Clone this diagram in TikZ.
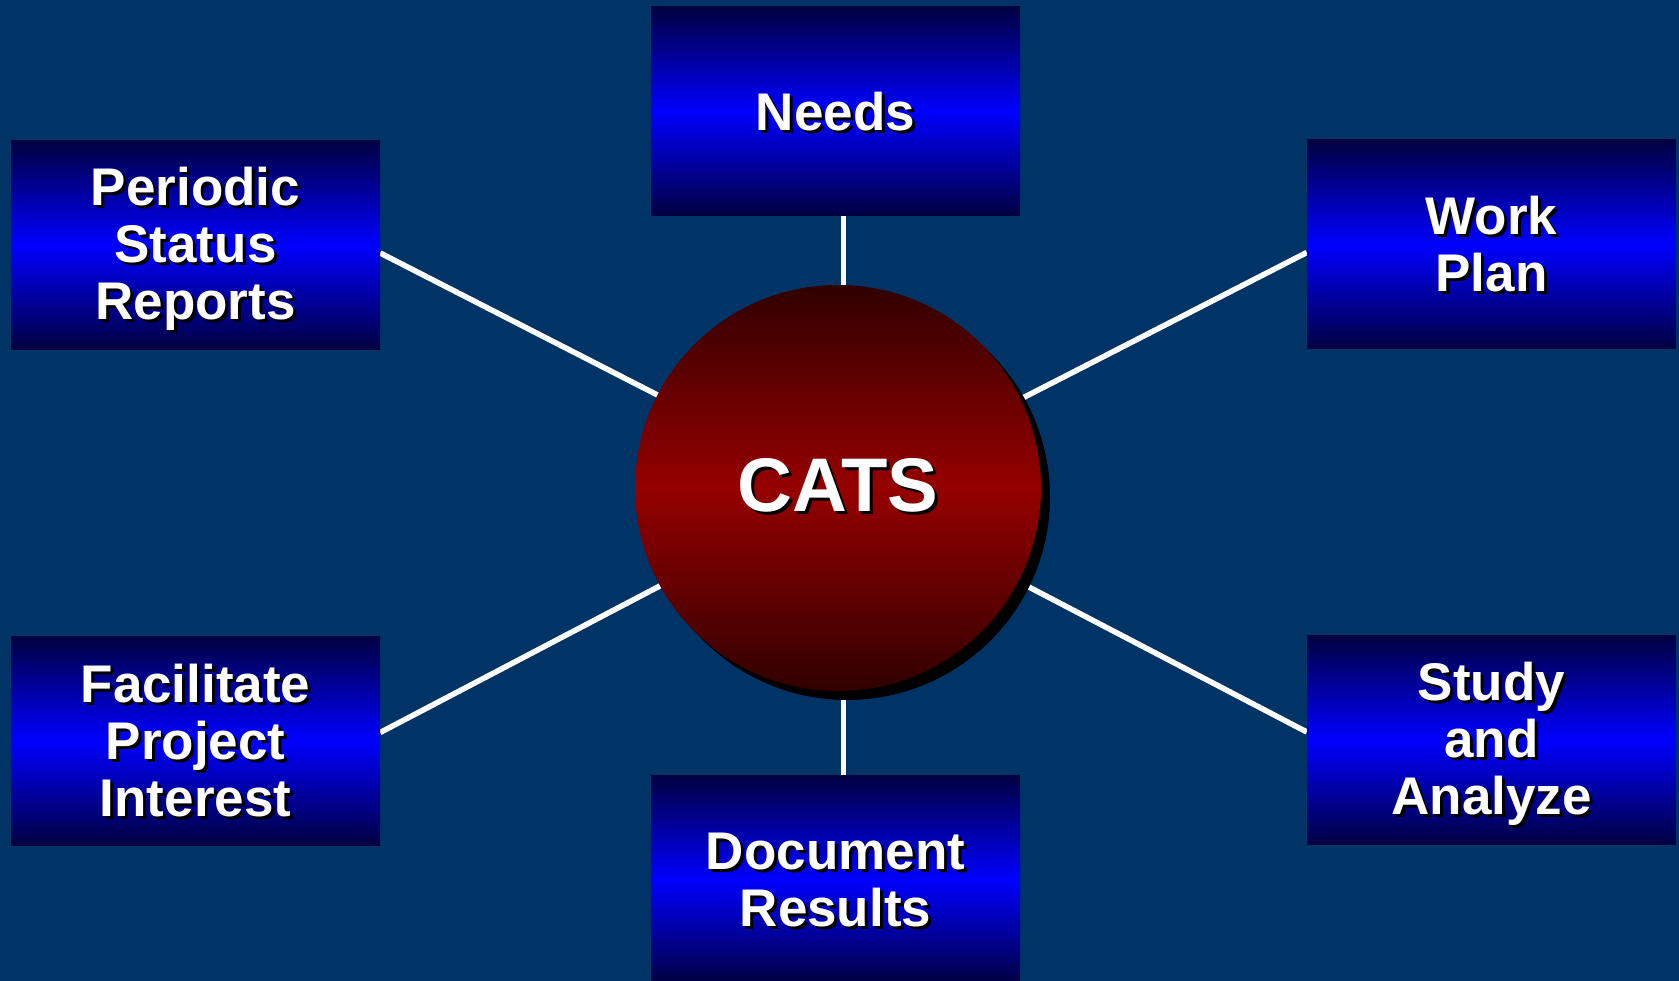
\documentclass[tikz,border=0pt]{standalone}
\usepackage{fontspec}
\setmainfont{Liberation Sans}
\pgfdeclarelayer{bg}
\pgfdeclarelayer{lines}
\pgfsetlayers{bg,lines,main}
\definecolor{bgblue}{RGB}{0,51,102}
\definecolor{boxdark}{RGB}{0,0,64}
\definecolor{boxblue}{RGB}{0,0,255}
\definecolor{catsdark}{RGB}{48,0,0}
\definecolor{catsmid}{RGB}{150,0,0}
\def\txtup{0pt}
\newcommand\noskiplim{\lineskiplimit -100pt\relax}
\newcommand\catsup{\def\txtup{7.2pt}}
\newcommand\shd[1]{\leavevmode\vrule height \dimexpr0.936em-\txtup\relax depth 0.22em width 0pt\rlap{\kern3pt\raisebox{-3pt}{\color{black}#1}}#1}
\tikzset{
  box/.style={rectangle, minimum width=369pt, minimum height=209pt, inner sep=0pt,
    top color=boxdark, bottom color=boxdark, middle color=boxblue,
    text=white, align=center, font=\fontsize{53}{57}\selectfont\bfseries\noskiplim},
  catsnode/.style={circle, minimum size=406pt, inner sep=0pt,
    top color=catsdark, bottom color=catsdark, middle color=catsmid,
    text=white, font=\fontsize{76}{80}\selectfont\bfseries\catsup},
  link/.style={draw=white, line width=5.5pt}
}
\begin{document}
\begin{tikzpicture}[x=1pt,y=-1pt]
\useasboundingbox (0,0) rectangle (1679,981);
\begin{pgfonlayer}{bg}
\fill[bgblue] (0,0) rectangle (1679,981);
\end{pgfonlayer}
\clip (0,0) rectangle (1679,981);
\node[box] (needs) at (835.5,111.5) {\shd{Needs}};
\node[box] (periodic) at (195.5,245) {\shd{Periodic}\\\shd{Status}\\\shd{Reports}};
\node[box] (work) at (1491.5,244.5) {\shd{Work}\\\shd{Plan}};
\node[box] (facil) at (195.5,740.5) {\shd{Facilitate}\\\shd{Project}\\\shd{Interest}};
\node[box] (study) at (1491.5,740) {\shd{Study}\\\shd{and}\\\shd{Analyze}};
\node[box] (doc) at (835.5,879.5) {\shd{Document}\\\shd{Results}};
\coordinate (c) at (838,488);
\fill[black] ([shift={(9,9)}]c) circle (203pt);
\node[catsnode] (cats) at (c) {\shd{CATS}};
\begin{pgfonlayer}{lines}
\draw[link] ([xshift=8pt]needs.south) -- ([xshift=5.5pt]cats.center);
\draw[link] ([xshift=8pt]doc.north) -- ([xshift=5.5pt]cats.center);
\draw[link] ([shift={(0,8)}]periodic.east) -- ([shift={(5,2)}]cats.center);
\draw[link] ([shift={(0,8)}]work.west) -- ([shift={(5,2)}]cats.center);
\draw[link] ([shift={(0,-8)}]facil.east) -- ([shift={(5,2)}]cats.center);
\draw[link] ([shift={(0,-8)}]study.west) -- ([shift={(5,2)}]cats.center);
\end{pgfonlayer}
\end{tikzpicture}
\end{document}
